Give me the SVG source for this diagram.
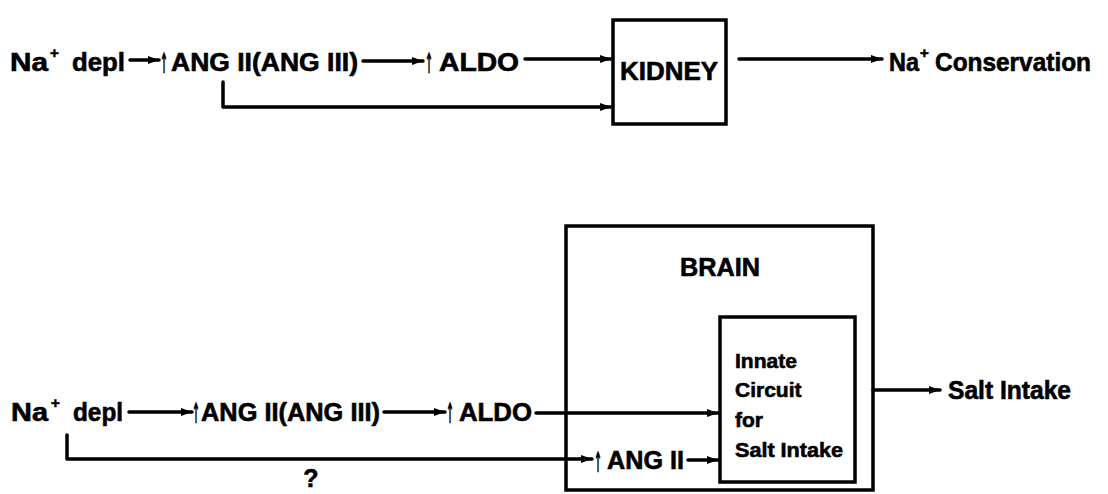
<svg xmlns="http://www.w3.org/2000/svg" width="1108" height="494" viewBox="0 0 1108 494">
<defs>
<style>
text{font-family:"Liberation Sans",Arial,sans-serif;font-weight:bold;fill:#000;stroke:#000;stroke-width:0.6}
.t{font-size:25px}
.s{font-size:21px}
.sup{font-size:15px}
.up{font-family:"DejaVu Sans",sans-serif;font-size:28px}
.ln{fill:none;stroke:#000;stroke-width:3.5;stroke-linecap:round;stroke-linejoin:round}
.box{fill:#fff;stroke:#000;stroke-width:3.5}
</style>
<marker id="ah" markerUnits="userSpaceOnUse" markerWidth="12" markerHeight="10" refX="11" refY="5" orient="auto">
<path d="M0,1 L11,5 L0,9 z" fill="#000"/>
</marker>
</defs>
<rect width="1108" height="494" fill="#fff"/>

<g id="connectors">
<line class="ln" x1="130" y1="60" x2="159" y2="60" marker-end="url(#ah)"/>
<line class="ln" x1="363" y1="61" x2="423" y2="61" marker-end="url(#ah)"/>
<line class="ln" x1="525" y1="59" x2="611" y2="59" marker-end="url(#ah)"/>
<polyline class="ln" points="223,82 223,107 611,107" marker-end="url(#ah)"/>
<line class="ln" x1="739" y1="59" x2="882" y2="59" marker-end="url(#ah)"/>
<line class="ln" x1="129" y1="412" x2="192" y2="412" marker-end="url(#ah)"/>
<line class="ln" x1="384" y1="412" x2="445" y2="412" marker-end="url(#ah)"/>
<line class="ln" x1="536" y1="413" x2="718" y2="413" marker-end="url(#ah)"/>
<polyline class="ln" points="67,435 67,459 592,459" marker-end="url(#ah)"/>
<line class="ln" x1="688" y1="460" x2="718" y2="460" marker-end="url(#ah)"/>
<line class="ln" x1="873" y1="390" x2="940" y2="390" marker-end="url(#ah)"/>
<text class="t" x="311" y="487" text-anchor="middle">?</text>
</g>

<g id="na-depl-top">
<text class="t" x="10" y="71"><tspan textLength="38" lengthAdjust="spacingAndGlyphs">Na</tspan><tspan class="sup" x="50" y="58">+</tspan><tspan x="72" y="71" textLength="53" lengthAdjust="spacingAndGlyphs">depl</tspan></text>
</g>
<g id="ang-top">
<text class="up" transform="translate(160,73) scale(0.34,1)">↑</text>
<text class="t" x="171" y="71" textLength="187" lengthAdjust="spacingAndGlyphs">ANG II(ANG III)</text>
</g>
<g id="aldo-top">
<text class="up" transform="translate(425,73) scale(0.34,1)">↑</text>
<text class="t" x="439" y="71" textLength="80" lengthAdjust="spacingAndGlyphs">ALDO</text>
</g>
<g id="kidney">
<rect class="box" x="613" y="20" width="113" height="104"/>
<text class="t" x="669" y="80" text-anchor="middle" textLength="98" lengthAdjust="spacingAndGlyphs">KIDNEY</text>
</g>
<g id="na-conservation">
<text class="t" x="889" y="71"><tspan textLength="30" lengthAdjust="spacingAndGlyphs">Na</tspan><tspan class="sup" x="920" y="58">+</tspan><tspan x="935" y="71" textLength="156" lengthAdjust="spacingAndGlyphs">Conservation</tspan></text>
</g>

<g id="na-depl-bottom">
<text class="t" x="11" y="421"><tspan textLength="37" lengthAdjust="spacingAndGlyphs">Na</tspan><tspan class="sup" x="51" y="408">+</tspan><tspan x="73" y="421" textLength="50" lengthAdjust="spacingAndGlyphs">depl</tspan></text>
</g>
<g id="ang-bottom">
<text class="up" transform="translate(192,423) scale(0.34,1)">↑</text>
<text class="t" x="201" y="421" textLength="179" lengthAdjust="spacingAndGlyphs">ANG II(ANG III)</text>
</g>
<g id="aldo-bottom">
<text class="up" transform="translate(446,423) scale(0.34,1)">↑</text>
<text class="t" x="459" y="421" textLength="73" lengthAdjust="spacingAndGlyphs">ALDO</text>
</g>
<g id="brain">
<rect x="566" y="226" width="307" height="264" fill="none" stroke="#000" stroke-width="3.5"/>
<text class="t" x="720" y="276" text-anchor="middle" textLength="80" lengthAdjust="spacingAndGlyphs">BRAIN</text>
</g>
<g id="innate-circuit">
<rect class="box" x="720" y="317" width="135" height="165"/>
<text class="s" x="735" y="368">Innate</text>
<text class="s" x="735" y="397">Circuit</text>
<text class="s" x="735" y="427">for</text>
<text class="s" x="735" y="457" textLength="108" lengthAdjust="spacingAndGlyphs">Salt Intake</text>
</g>
<g id="ang-ii">
<text class="up" transform="translate(594,472) scale(0.34,1)">↑</text>
<text class="t" x="607" y="469" textLength="77" lengthAdjust="spacingAndGlyphs">ANG II</text>
</g>
<g id="salt-intake">
<text class="t" x="948" y="399" textLength="123" lengthAdjust="spacingAndGlyphs">Salt Intake</text>
</g>
</svg>
